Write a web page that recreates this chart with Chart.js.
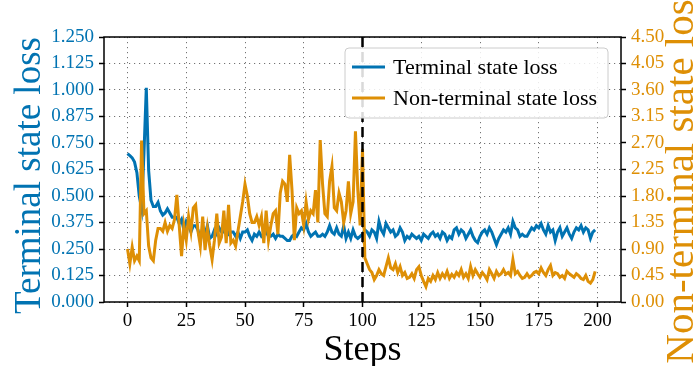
<!DOCTYPE html>
<html>
<head>
<meta charset="utf-8">
<script src="https://cdn.jsdelivr.net/npm/chart.js@4.4.1/dist/chart.umd.min.js"></script>
<style>
  html, body { margin: 0; padding: 0; background: #fff; }
  #wrap { width: 698px; height: 366px; position: relative; }
</style>
</head>
<body>
<div id="wrap"><canvas id="c" width="698" height="366"></canvas></div>
<script>
// values, one per step (0..199)
const terminalLoss = [
  0.70, 0.69, 0.68, 0.66, 0.61, 0.50, 0.44, 0.70, 1.01, 0.62,
  0.48, 0.45, 0.45, 0.47, 0.43, 0.41, 0.42, 0.44, 0.42, 0.40,
  0.40, 0.40, 0.37, 0.39, 0.34, 0.38, 0.36, 0.33, 0.36, 0.36,
  0.34, 0.29, 0.35, 0.32, 0.36, 0.30, 0.31, 0.34, 0.32, 0.35,
  0.33, 0.33, 0.35, 0.32, 0.33, 0.33, 0.31, 0.33, 0.30, 0.33,
  0.33, 0.34, 0.31, 0.29, 0.32, 0.31, 0.33, 0.31, 0.32, 0.33,
  0.31, 0.31, 0.32, 0.30, 0.32, 0.31, 0.31, 0.30, 0.29, 0.29,
  0.31, 0.32, 0.31, 0.33, 0.35, 0.34, 0.37, 0.33, 0.31, 0.32,
  0.33, 0.31, 0.31, 0.32, 0.31, 0.33, 0.36, 0.33, 0.32, 0.35,
  0.32, 0.31, 0.36, 0.30, 0.33, 0.30, 0.34, 0.31, 0.30, 0.31,
  0.32, 0.34, 0.33, 0.31, 0.34, 0.33, 0.30, 0.38, 0.34, 0.32,
  0.37, 0.35, 0.33, 0.34, 0.31, 0.32, 0.35, 0.33, 0.29, 0.31,
  0.30, 0.32, 0.31, 0.30, 0.31, 0.29, 0.32, 0.31, 0.30, 0.32,
  0.33, 0.31, 0.32, 0.30, 0.33, 0.32, 0.29, 0.31, 0.30, 0.34,
  0.35, 0.32, 0.34, 0.33, 0.30, 0.32, 0.34, 0.31, 0.29, 0.28,
  0.31, 0.33, 0.34, 0.32, 0.35, 0.33, 0.30, 0.27, 0.30, 0.32,
  0.34, 0.33, 0.35, 0.32, 0.38, 0.35, 0.34, 0.31, 0.32, 0.31,
  0.31, 0.33, 0.35, 0.34, 0.36, 0.35, 0.37, 0.34, 0.32, 0.36,
  0.33, 0.34, 0.29, 0.33, 0.35, 0.31, 0.33, 0.35, 0.32, 0.30,
  0.33, 0.35, 0.34, 0.36, 0.33, 0.35, 0.34, 0.30, 0.33, 0.34
];

const nonTerminalLoss = [
  0.90, 0.65, 0.93, 0.70, 0.78, 0.70, 2.74, 1.50, 1.55, 0.95,
  0.75, 0.70, 1.05, 1.25, 1.25, 1.20, 1.35, 1.20, 1.30, 1.25,
  1.40, 1.82, 1.30, 0.78, 1.30, 1.05, 1.45, 1.20, 1.60, 1.65,
  1.20, 0.95, 1.45, 0.88, 1.25, 0.95, 0.72, 1.05, 1.50, 1.00,
  1.10, 1.55, 1.00, 1.65, 1.00, 1.05, 0.95, 1.20, 1.45, 1.70,
  2.00, 1.80, 1.50, 1.35, 1.35, 1.45, 1.30, 1.45, 1.00, 1.55,
  1.05, 1.30, 1.50, 1.55, 1.15, 1.85, 2.05, 2.00, 1.70, 2.50,
  1.90, 1.05, 1.60, 1.50, 1.55, 1.30, 1.70, 1.40, 1.55, 1.50,
  1.90, 1.35, 2.75, 2.00, 1.50, 1.45, 2.05, 2.30, 1.60, 1.55,
  1.85, 1.70, 1.35, 1.55, 2.05, 1.50, 1.70, 2.90, 1.90, 1.30,
  2.60, 0.75, 0.65, 0.55, 0.50, 0.38, 0.45, 0.55, 0.48, 0.45,
  0.60, 0.75, 0.58, 0.55, 0.65, 0.50, 0.60, 0.45, 0.50, 0.40,
  0.42, 0.48, 0.40, 0.55, 0.60, 0.45, 0.35, 0.26, 0.40, 0.35,
  0.45, 0.38, 0.50, 0.40, 0.48, 0.42, 0.52, 0.40, 0.47, 0.42,
  0.50, 0.45, 0.55, 0.42, 0.48, 0.40, 0.60, 0.45, 0.55, 0.48,
  0.42, 0.50, 0.45, 0.38, 0.55, 0.48, 0.40, 0.52, 0.45, 0.48,
  0.55, 0.47, 0.50, 0.45, 0.72, 0.48, 0.52, 0.45, 0.40, 0.42,
  0.48, 0.42, 0.45, 0.50, 0.52, 0.48, 0.58, 0.50, 0.45, 0.55,
  0.62, 0.45, 0.50, 0.48, 0.42, 0.45, 0.40, 0.52, 0.48, 0.45,
  0.42, 0.48, 0.45, 0.40, 0.38, 0.45, 0.35, 0.32, 0.38, 0.52
];

const xTicks = [0, 25, 50, 75, 100, 125, 150, 175, 200];
const leftTicks = [0, 0.125, 0.25, 0.375, 0.5, 0.625, 0.75, 0.875, 1.0, 1.125, 1.25];
const rightTicks = [0, 0.45, 0.9, 1.35, 1.8, 2.25, 2.7, 3.15, 3.6, 4.05, 4.5];
const switchStep = 100;

const seriesNames = ["Terminal state loss", "Non-terminal state loss"];
const xTitle = "Steps";
const leftTitle = "Terminal state loss";
const rightTitle = "Non-terminal state loss";

const BLUE = "#0173b2";
const ORANGE = "#de8f05";
const SERIF = "'Liberation Serif', 'Times New Roman', serif";

const toPoints = (arr) => arr.map((v, i) => ({ x: i, y: v }));
const setTicks = (list) => (s) => { s.ticks = list.map(v => ({ value: v })); };

/* frame, step-100 marker, titles and legend */
const decorPlugin = {
  id: "decor",
  afterDatasetsDraw(chart) {
    const { ctx, chartArea: a, scales } = chart;
    ctx.save();
    // dashed marker at the switch step
    const xs = scales.x.getPixelForValue(switchStep);
    ctx.strokeStyle = "#000";
    ctx.lineWidth = 2.5;
    ctx.setLineDash([10, 5]);
    ctx.beginPath();
    ctx.moveTo(xs, a.top);
    ctx.lineTo(xs, a.bottom);
    ctx.stroke();
    ctx.setLineDash([]);

    // axes box
    ctx.lineWidth = 1.5;
    ctx.strokeRect(a.left, a.top, a.right - a.left, a.bottom - a.top);

    // legend
    const lx = 345, ly = 48, lw = 263, lh = 70;
    ctx.fillStyle = "rgba(255,255,255,0.85)";
    ctx.strokeStyle = "#cccccc";
    ctx.lineWidth = 1;
    ctx.beginPath();
    ctx.roundRect(lx, ly, lw, lh, 4);
    ctx.fill();
    ctx.stroke();
    const rows = [[seriesNames[0], BLUE, 67], [seriesNames[1], ORANGE, 98]];
    ctx.font = "22px " + SERIF;
    ctx.textBaseline = "middle";
    ctx.textAlign = "left";
    for (const [name, col, y] of rows) {
      ctx.strokeStyle = col;
      ctx.lineWidth = 3;
      ctx.beginPath();
      ctx.moveTo(352, y);
      ctx.lineTo(385, y);
      ctx.stroke();
      ctx.fillStyle = "#000";
      ctx.fillText(name, 393, y + 1);
    }

    // axis titles
    const cy = (a.top + a.bottom) / 2;
    ctx.textAlign = "center";
    ctx.fillStyle = "#000";
    ctx.font = "36px " + SERIF;
    ctx.fillText(xTitle, (a.left + a.right) / 2, 351);

    ctx.fillStyle = BLUE;
    ctx.font = "37px " + SERIF;
    ctx.translate(30, cy + 6);
    ctx.rotate(-Math.PI / 2);
    ctx.fillText(leftTitle, 0, 0);
    ctx.setTransform(1, 0, 0, 1, 0, 0);

    ctx.fillStyle = ORANGE;
    ctx.font = "41px " + SERIF;
    ctx.translate(682, cy + 4);
    ctx.rotate(-Math.PI / 2);
    ctx.fillText(rightTitle, 0, 0);
    ctx.restore();
  }
};

const tickFont = { family: SERIF, size: 19 };

new Chart(document.getElementById("c"), {
  type: "line",
  data: {
    datasets: [
      {
        label: seriesNames[1],
        data: toPoints(nonTerminalLoss),
        yAxisID: "yR",
        borderColor: ORANGE,
        borderWidth: 3,
        pointRadius: 0,
        tension: 0,
        order: 0
      },
      {
        label: seriesNames[0],
        data: toPoints(terminalLoss),
        yAxisID: "yL",
        borderColor: BLUE,
        borderWidth: 3,
        pointRadius: 0,
        tension: 0,
        order: 1
      }
    ]
  },
  options: {
    responsive: false,
    animation: false,
    layout: { padding: { top: 37, left: 0, right: 0, bottom: 0 } },
    plugins: { legend: { display: false }, tooltip: { enabled: false } },
    scales: {
      x: {
        type: "linear",
        min: -10,
        max: 210,
        afterBuildTicks: setTicks(xTicks),
        afterFit: (s) => { s.height = 64; },
        ticks: { color: "#000", font: tickFont, padding: 3, autoSkip: false, callback: (v) => String(v), maxRotation: 0 },
        grid: { color: "rgba(0,0,0,0.55)", lineWidth: 1, tickColor: "#000", tickWidth: 1.5, tickLength: 5, tickBorderDash: [] },
        border: { display: false, dash: [1.2, 3.8] }
      },
      yL: {
        type: "linear",
        position: "left",
        min: 0,
        max: 1.25,
        afterBuildTicks: setTicks(leftTicks),
        afterFit: (s) => { s.width = 104; },
        ticks: { color: BLUE, font: tickFont, padding: 5, autoSkip: false, callback: (v) => v.toFixed(3) },
        grid: { color: "rgba(0,0,0,0.55)", lineWidth: 1, tickColor: "#000", tickWidth: 1.5, tickLength: 5, tickBorderDash: [] },
        border: { display: false, dash: [1.2, 3.8] }
      },
      yR: {
        type: "linear",
        position: "right",
        min: 0,
        max: 4.5,
        afterBuildTicks: setTicks(rightTicks),
        afterFit: (s) => { s.width = 77; },
        ticks: { color: ORANGE, font: tickFont, padding: 5, autoSkip: false, callback: (v) => v.toFixed(2) },
        grid: { drawOnChartArea: false, tickColor: "#000", tickWidth: 1.5, tickLength: 5 },
        border: { display: false }
      }
    }
  },
  plugins: [decorPlugin]
});
</script>
</body>
</html>
